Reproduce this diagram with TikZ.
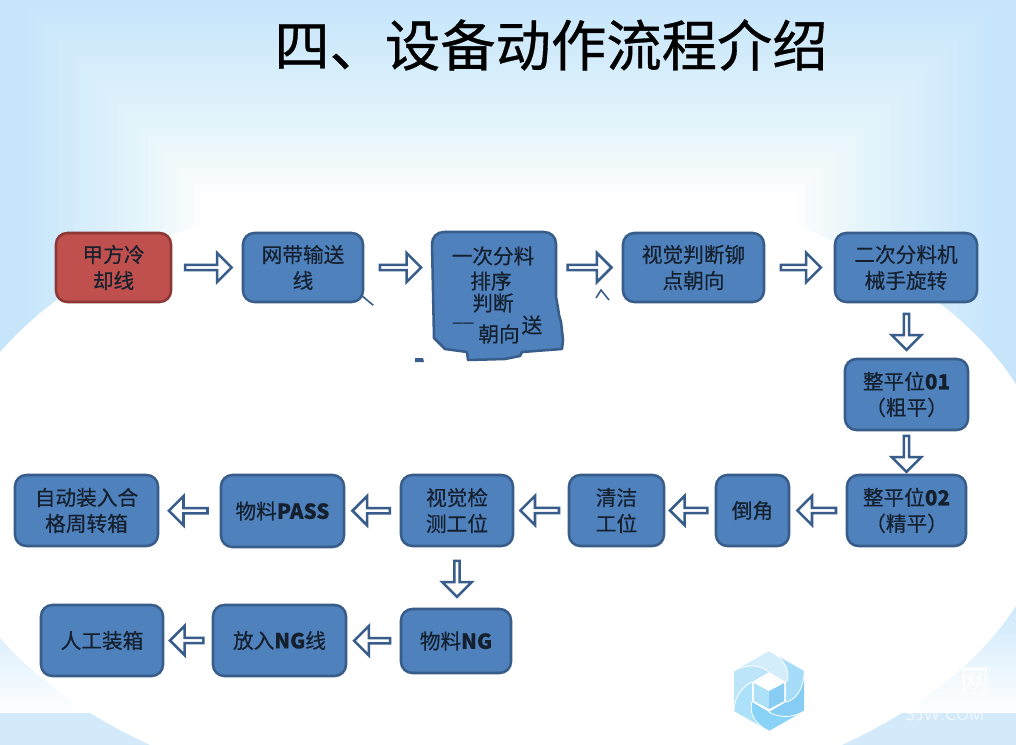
\documentclass[tikz,border=0pt]{standalone}
\usepackage{fontspec}
\setmainfont{Noto Sans CJK SC}
\newfontfamily\boxfont{Noto Sans CJK SC}[FakeBold=0.35]
\newfontfamily\titlefont{Noto Sans CJK SC}[FakeBold=0.6]
\usetikzlibrary{shapes.arrows}
\definecolor{boxfill}{HTML}{4F81BD}
\definecolor{boxline}{HTML}{385D8A}
\definecolor{redfill}{HTML}{C0504D}
\definecolor{redline}{HTML}{8C3836}
\definecolor{inktext}{HTML}{14202E}
\definecolor{skyA}{HTML}{C6E5FB}
\definecolor{bandsky}{HTML}{D3EAFB}
\definecolor{logoA}{HTML}{A5DCF9}
\definecolor{logoB}{HTML}{86CCF3}
\definecolor{logoC}{HTML}{8AD3F8}
\definecolor{logoD}{HTML}{ADE0F9}
\definecolor{logoE}{HTML}{BCE5FA}
\definecolor{logoF}{HTML}{D3EDFB}
\tikzset{
  x=0.75pt,y=-0.75pt,
  flowbox/.style={rectangle,rounded corners=8.5pt,draw=boxline,fill=boxfill,line width=1.9pt,
    align=center,text=inktext,font=\boxfont\fontsize{15.5}{19.5}\selectfont,inner sep=0pt},
  redbox/.style={flowbox,draw=redline,fill=redfill},
  ghost/.style={rectangle,inner sep=0pt,text=inktext,font=\boxfont\fontsize{15.5}{19.5}\selectfont},
  blockarrow/.style={single arrow,draw=boxline,fill=white,line width=1.9pt,inner sep=0pt,
    single arrow head extend=4.2pt,single arrow head indent=0pt,
    minimum width=22pt,minimum height=#1,anchor=center},
  blockarrow/.default=33pt,
  logoline/.style={white,line width=.6pt},
  scrap/.style={boxline,line width=1.2pt}
}
\newcommand{\boxat}[7][flowbox]{% style,name,x1,y1,x2,y2,text
  \node[#1,minimum width=#5*0.75pt-#3*0.75pt,minimum height=#6*0.75pt-#4*0.75pt] (#2) at ({(#3+#5)/2},{(#4+#6)/2}) {#7};}
\begin{document}
\begin{tikzpicture}
\useasboundingbox (0,0) rectangle (1016,745);
% background
\fill[skyA] (0,0) rectangle (1016,745);
\foreach \i in {1,...,24}{
  \fill[white,opacity={1/(25-\i)}]
    ({20+\i*7.5},{\i*8}) rectangle ({1000-\i*8.5},430);
}
\shade[top color=skyA,bottom color=white] (0,590) rectangle (1016,713);
\fill[bandsky] (0,713) rectangle (1016,745);
\begin{scope}
  \clip (-60,228) rectangle (1076,745);
  \fill[white] (496,495) ellipse [x radius=554,y radius=320];
\end{scope}
% watermark
\fill[white,opacity=.3] (938,666) rectangle (990,696);
\node[text=white,font=\fontsize{22}{22}\selectfont,inner sep=0pt] (wmA) at (975,681) {网};
\node[text=white,opacity=.7,font=\fontsize{13.5}{14}\sffamily\selectfont,inner sep=0pt] (wmB) at (945,714) {SJW.COM};
% logo
\fill[logoA] (769,651) -- (804,671) .. controls (804,690) and (795,700) .. (786,702) -- (786,682) .. controls (790,680) and (790,660) .. cycle;
\fill[logoB] (804,671) -- (804,711) .. controls (790,720) and (775,716) .. (769,712) -- (786,702) .. controls (795,700) and (804,690) .. cycle;
\fill[logoC] (804,711) -- (769,731) .. controls (750,722) and (750,708) .. (752,702) -- (769,712) .. controls (775,716) and (790,720) .. cycle;
\fill[logoD] (769,731) -- (734,711) .. controls (734,695) and (745,685) .. (752,682) -- (752,702) .. controls (750,708) and (750,722) .. cycle;
\fill[logoE] (734,711) -- (734,671) .. controls (750,662) and (763,667) .. (769,672) -- (752,682) .. controls (745,685) and (734,695) .. cycle;
\fill[logoF] (734,671) -- (769,651) .. controls (790,660) and (790,680) .. (786,682) -- (769,672) .. controls (763,667) and (750,662) .. cycle;
\fill[logoD] (769,675) -- (784,683) -- (784,701) -- (769,709) -- (754,701) -- (754,683) -- cycle;
\fill[logoB] (769,691) -- (784,683) -- (784,701) -- (769,709) -- cycle;
\fill[white] (769,675) -- (784,683) -- (769,691) -- (754,683) -- cycle;
\draw[logoline] (769,651) .. controls (790,660) and (790,680) .. (786,682);
\draw[logoline] (804,671) .. controls (804,690) and (795,700) .. (786,702);
\draw[logoline] (804,711) .. controls (790,720) and (775,716) .. (769,712);
\draw[logoline] (769,731) .. controls (750,722) and (750,708) .. (752,702);
\draw[logoline] (734,711) .. controls (734,695) and (745,685) .. (752,682);
\draw[logoline] (734,671) .. controls (750,662) and (763,667) .. (769,672);
% title
\node[font=\titlefont\fontsize{41.5}{41.5}\selectfont,text=black,inner sep=0pt] (title) at (551,45) {四、设备动作流程介绍};
% boxes
\boxat[redbox]{b1}{56}{233}{171}{302}{甲方冷\\却线}
\boxat{b2}{243}{233}{363}{302}{网带输送\\线}
\node[rectangle,inner sep=0pt,minimum width=92pt,minimum height=52pt] (b3) at (493,267) {};
\fill[boxfill,draw=boxline,line width=1.9pt,line join=round]
 (432,244) .. controls (432,237) and (437,232) .. (444,232) -- (544,232) .. controls (551,232) and (556,237) .. (556,244)
 -- (556,297) -- (558,308) -- (559,315) -- (561,322) -- (563,340) -- (562,349) -- (522,352) -- (520,356) -- (505,359) -- (468,360) -- (467,352)
 -- (445,349) -- (441,345) -- (434,338) -- cycle;
\node[ghost] (t3a) at (493,256) {一次分料};
\node[ghost] (t3b) at (491,281) {排序};
\node[ghost] (t3c) at (493,303) {判断};
\node[ghost] (t3d) at (499,334) {朝向};
\node[ghost] (t3e) at (532,325) {送};
\node[ghost,font=\boxfont\fontsize{8}{8}\selectfont] (t3f) at (463,325) {一一};
\boxat{b4}{623}{233}{764}{302}{视觉判断铆\\点朝向}
\boxat{b5}{835}{233}{977}{302}{二次分料机\\械手旋转}
\boxat{b6}{845}{359}{968}{430}{整平位\textbf{01}\\（粗平）}
\boxat{b7}{847}{475}{966}{546}{整平位\textbf{02}\\（精平）}
\boxat{b8}{716}{475}{789}{546}{倒角}
\boxat{b9}{569}{475}{664}{546}{清洁\\工位}
\boxat{b10}{401}{475}{513}{546}{视觉检\\测工位}
\boxat{b11}{221}{475}{344}{547}{物料\textbf{PASS}}
\boxat{b12}{15}{475}{158}{546}{自动装入合\\格周转箱}
\boxat{b13}{401}{609}{511}{673}{物料\textbf{NG}}
\boxat{b14}{213}{605}{346}{676}{放入\textbf{NG}线}
\boxat{b15}{41}{605}{163}{676}{人工装箱}
% scraps left by the picture's damage
\draw[scrap] (b2.south east) ++(-3,-8) -- ++(12,10);
\draw[scrap] (596,298) -- (601,290) -- (609,300);
\fill[boxline] (415,358) -- (423,358) -- (424,362) -- (415,362) -- cycle;
% arrows
\path (b1) -- node[blockarrow=35pt,pos=.5,name=a1]{} (b2);
\path (b2) -- node[blockarrow=31pt,pos=.52,name=a2]{} (b3.west|-b2);
\path (b3.east|-b2) -- node[blockarrow=33pt,name=a3]{} (b4.west);
\path (b4) -- node[blockarrow=30pt,name=a4]{} (b5);
\path (b5.south-|b6) -- node[blockarrow=27pt,rotate=-90,name=a5]{} (b6.north);
\path (b6.south) -- node[blockarrow=27pt,rotate=-90,name=a6]{} (b7.north);
\path (b7.west) -- node[blockarrow=29pt,rotate=180,name=a7]{} (b8.east);
\path (b8.west) -- node[blockarrow=28pt,rotate=180,name=a8]{} (b9.east);
\path (b9.west) -- node[blockarrow=29pt,rotate=180,name=a9]{} (b10.east);
\path (b10.west) -- node[blockarrow=28pt,rotate=180,name=a10]{} (b11.east);
\path (b11.west) -- node[blockarrow=29pt,rotate=180,name=a11]{} (b12.east);
\path (b10.south) -- node[blockarrow=27pt,rotate=-90,name=a12]{} (b13.north-|b10);
\path (b13.west) -- node[blockarrow=27pt,rotate=180,name=a13]{} (b14.east);
\path (b14.west) -- node[blockarrow=25pt,rotate=180,name=a14]{} (b15.east);
\end{tikzpicture}
\end{document}
